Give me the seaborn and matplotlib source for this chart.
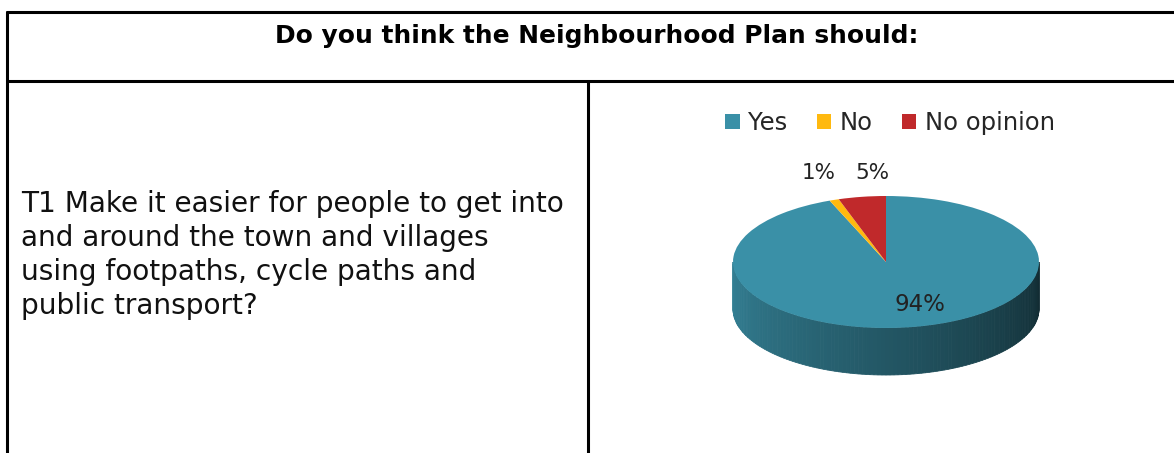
import numpy as np
import matplotlib
matplotlib.use("Agg")
import matplotlib.pyplot as plt
import seaborn as sns
from matplotlib.patches import Polygon, Patch
from matplotlib.lines import Line2D

sns.set_style("white")
plt.rcParams['font.family'] = ['DejaVu Sans']

# dados do grafico
categorias = ['Yes', 'No', 'No opinion']
valores = [94, 1, 5]
rotulos = ['94%', '1%', '5%']
cores = ['#3A90A7', '#FFB90F', '#C0292B']

titulo = 'Do you think the Neighbourhood Plan should:'
pergunta = ('T1 Make it easier for people to get into\n'
            'and around the town and villages\n'
            'using footpaths, cycle paths and\n'
            'public transport?')

W, H = 1174, 453
fig = plt.figure(figsize=(W / 100, H / 100), dpi=100)
fig.patch.set_facecolor('white')

# tabela (linhas em pixels convertidas para fracao da figura)
def fy(py):
    return 1 - py / H

def fx(px):
    return px / W

bordas = [
    ((7, 7), (12, H)),
    ((7, W), (12, 12)),
    ((7, W), (81, 81)),
    ((588, 588), (81, H)),
]
for xs, ys in bordas:
    fig.add_artist(Line2D([fx(x) for x in xs], [fy(y) for y in ys],
                          color='black', lw=2.2, transform=fig.transFigure))

fig.text(fx(597), fy(36), titulo, ha='center', va='center',
         fontsize=17.9, fontweight='bold', color='black')
fig.text(fx(21), fy(190), pergunta, ha='left', va='top',
         fontsize=20.2, color='#111111', linespacing=1.27)

# pizza 3D: 1 unidade em x = 153 px, 1 unidade em y = 66 px
cx, cy, rx, ry = 886, 262, 153, 66
prof = 47 / ry
left_px, right_px, top_px, bot_px = 700, 1072, 150, 395
ax = fig.add_axes([fx(left_px), fy(bot_px), (right_px - left_px) / W, (bot_px - top_px) / H])

wedges, _ = ax.pie(valores, colors=cores, startangle=90, counterclock=False,
                   wedgeprops=dict(linewidth=0), radius=1)
ax.set_aspect('auto')
ax.set_xlim((left_px - cx) / rx, (right_px - cx) / rx)
ax.set_ylim(-(bot_px - cy) / ry, (cy - top_px) / ry)
ax.axis('off')

# lateral do cilindro com gradiente (so a fatia "Yes" aparece na frente)
n = 120
ts = np.linspace(np.pi, 2 * np.pi, n + 1)
base = np.array(matplotlib.colors.to_rgb(cores[0]))
for i in range(n):
    t = np.linspace(ts[i], ts[i + 1], 4)
    x = np.cos(t)
    y = np.sin(t)
    pts = np.concatenate([np.column_stack([x, y]),
                          np.column_stack([x[::-1], y[::-1] - prof])])
    frac = i / n
    fator = 0.9 - 0.6 * frac
    cor = np.clip(base * fator, 0, 1)
    ax.add_patch(Polygon(pts, closed=True, facecolor=cor, edgecolor=cor, lw=0.6, zorder=0))

# rotulos
angs = [np.deg2rad((w.theta1 + w.theta2) / 2) for w in wedges]
ax.text(0.66 * np.cos(angs[0]) + 0.1, 0.66 * np.sin(angs[0]), rotulos[0],
        ha='center', va='center', fontsize=16.5, color='#222222')
ax.text(-0.44, 1.35, rotulos[1], ha='center', va='center', fontsize=15.5, color='#222222')
ax.text(-0.09, 1.35, rotulos[2], ha='center', va='center', fontsize=15.5, color='#222222')

handles = [Patch(facecolor=c, edgecolor='none') for c in cores]
fig.legend(handles, categorias, loc='center', bbox_to_anchor=(fx(890), fy(123)),
           ncol=3, frameon=False, fontsize=17.5, handlelength=0.6, handleheight=0.6,
           handletextpad=0.35, columnspacing=1.2)

fig.savefig('out.png', dpi=100, facecolor='white')
